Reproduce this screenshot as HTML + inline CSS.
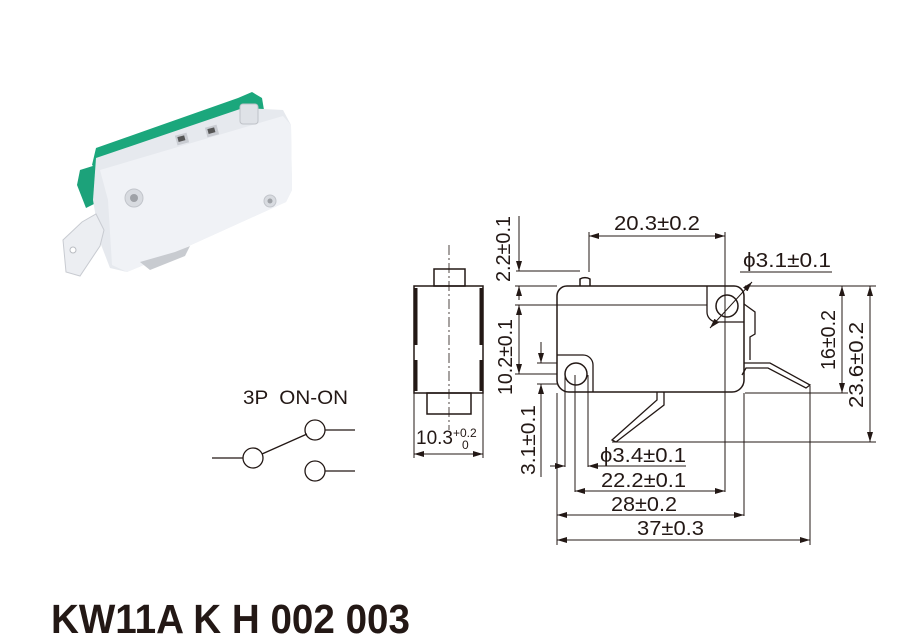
<!DOCTYPE html>
<html><head><meta charset="utf-8"><style>
html,body{margin:0;padding:0;background:#fff;}
svg{display:block;}
text{font-family:"Liberation Sans",Arial,sans-serif;fill:#231815;}
</style></head><body>
<svg width="906" height="639" viewBox="0 0 906 639" xmlns="http://www.w3.org/2000/svg">
<defs>
<marker id="a" viewBox="0 0 10 6" refX="10" refY="3" markerWidth="10" markerHeight="6" orient="auto-start-reverse" markerUnits="userSpaceOnUse"><path d="M0,0 L10,3 L0,6 z" fill="#231815"/></marker>
</defs>
<!-- photo -->
<g>
<polygon points="77,185 80,170 96,165 96,203 86,208" fill="#1ca27a"/>
<polygon points="92,165 96,148 238,98 252,92 262,98 264,110 100,172" fill="#1ba77c"/>
<polygon points="96,158 243,108 283,110 291,125 292,190 286,202 180,250 127,272 110,268 100,242 93,200" fill="#e6e9ee"/>
<polygon points="100,170 283,116 291,125 292,190 286,202 180,250 127,272 112,265 108,200" fill="#f0f2f6"/>
<polygon points="63,240 66,272 80,276 100,246 104,230 96,214 82,222" fill="#eceef2" stroke="#c8cbd1" stroke-width="1"/>
<circle cx="73" cy="250" r="3" fill="#fff" stroke="#b9bcc2"/>
<rect x="176" y="134" width="12" height="10" fill="#c9ccd2" transform="rotate(-15 182 139)"/>
<rect x="178" y="136" width="7" height="5" fill="#555" transform="rotate(-15 182 139)"/>
<rect x="206" y="126" width="12" height="10" fill="#c9ccd2" transform="rotate(-15 212 131)"/>
<rect x="208" y="128" width="7" height="5" fill="#555" transform="rotate(-15 212 131)"/>
<rect x="240" y="104" width="18" height="20" rx="3" fill="#dfe2e7" stroke="#bfc2c8"/>
<circle cx="134" cy="198" r="9" fill="#d8dbe0" stroke="#c2c5cb"/>
<circle cx="134" cy="198" r="4" fill="#9fa2a7"/>
<circle cx="270" cy="201" r="6" fill="#d8dbe0" stroke="#c2c5cb"/>
<circle cx="270" cy="201" r="2.5" fill="#9fa2a7"/>
<polygon points="140,262 175,252 190,246 185,256 150,270" fill="#c8cbd0"/>
</g>

<g fill="none" stroke="#231815" stroke-width="1">
<rect x="434" y="269" width="31" height="17" stroke-width="1.5"/>
<rect x="414" y="286" width="69" height="107" stroke-width="1.5"/>
<rect x="427" y="393" width="44" height="21" stroke-width="1.5"/>
<path d="M416,288 V345 M416,360 V391 M481,288 V345 M481,360 V391" stroke-width="3"/>
<path d="M449,245 V430" stroke-dasharray="10,3,2,3" stroke-width="0.8"/>
<path d="M414,393 V458 M483,393 V458"/>
<path d="M414,454 H483" marker-start="url(#a)" marker-end="url(#a)"/>

<path d="M590,286 V279 a9,8 0 0 0 -10,0 V286" stroke-width="1.5"/>
<path d="M567,286 H734 a10,10 0 0 1 10,10 V380 a12,12 0 0 1 -12,12 H569 a12,12 0 0 1 -12,-12 V296 a10,10 0 0 1 10,-10 z" stroke-width="1.5"/>
<path d="M707,286 V312 a10,10 0 0 0 10,10 H744" stroke-width="1.3"/>
<circle cx="727" cy="306" r="11" stroke-width="1.5"/>
<path d="M744,304 L755,312 V334 L750,337 V360" stroke-width="1.3"/>
<path d="M744,363 H770 L810,385 L806,388 L768,368 H746 L742,375" stroke-width="1.3"/>
<path d="M557,355 H583 a10,10 0 0 1 10,10 V392" stroke-width="1.3"/>
<circle cx="576" cy="374" r="11" stroke-width="1.5"/>
<path d="M657,392 V400 L612,440 L616,442 L664,405 V392" stroke-width="1.3"/>

<path d="M589,272 V232 M725,232 V492"/>
<path d="M589,236 H725" marker-start="url(#a)" marker-end="url(#a)"/>
<path d="M516,271 H580 M515,286 H557 M515,305 H707 M515,374 H557"/>
<path d="M519,216 V271" marker-end="url(#a)"/>
<path d="M519,286 V300" marker-start="url(#a)"/>
<path d="M519,305 V374" marker-start="url(#a)" marker-end="url(#a)"/>
<path d="M537,363 H557 M537,384 H557"/>
<path d="M541,342 V363" marker-end="url(#a)"/>
<path d="M541,384 V477" marker-start="url(#a)"/>
<path d="M565,375 V467 M588,375 V467 M575,375 V492 M557,393 V545 M744,393 V516 M810,386 V545"/>
<path d="M550,466 H565" marker-end="url(#a)"/>
<path d="M588,466 H686" marker-start="url(#a)"/>
<path d="M575,491 H725" marker-start="url(#a)" marker-end="url(#a)"/>
<path d="M557,515 H744" marker-start="url(#a)" marker-end="url(#a)"/>
<path d="M557,540 H810" marker-start="url(#a)" marker-end="url(#a)"/>
<path d="M740,272 H832"/>
<path d="M710,328 L752,282" marker-start="url(#a)" marker-end="url(#a)"/>
<path d="M745,286 H876 M745,393 H848 M612,442 H876"/>
<path d="M842,286 V393" marker-start="url(#a)" marker-end="url(#a)"/>
<path d="M870,286 V442" marker-start="url(#a)" marker-end="url(#a)"/>

<path d="M212,458 H243 M262,454 L307,434 M325,430 H355 M325,471 H355" stroke-width="1.3"/>
<circle cx="253" cy="458" r="10" stroke-width="1.3"/>
<circle cx="315" cy="430" r="10" stroke-width="1.3"/>
<circle cx="315" cy="471" r="10" stroke-width="1.3"/>
</g>

<g font-size="20">
<text x="614" y="230" textLength="86" lengthAdjust="spacingAndGlyphs">20.3±0.2</text>
<text x="743" y="267" textLength="88" lengthAdjust="spacingAndGlyphs">ϕ3.1±0.1</text>
<text x="600" y="462" textLength="86" lengthAdjust="spacingAndGlyphs">ϕ3.4±0.1</text>
<text x="601" y="487" textLength="85" lengthAdjust="spacingAndGlyphs">22.2±0.1</text>
<text x="611" y="511" textLength="66" lengthAdjust="spacingAndGlyphs">28±0.2</text>
<text x="637" y="535" textLength="67" lengthAdjust="spacingAndGlyphs">37±0.3</text>
<text x="416" y="444" font-size="19">10.3</text>
<text x="453" y="437" font-size="12">+0.2</text>
<text x="462" y="449" font-size="12">0</text>
<text transform="translate(510,249) rotate(-90)" text-anchor="middle" textLength="66" lengthAdjust="spacingAndGlyphs">2.2±0.1</text>
<text transform="translate(512,357) rotate(-90)" text-anchor="middle" textLength="76" lengthAdjust="spacingAndGlyphs">10.2±0.1</text>
<text transform="translate(535,440) rotate(-90)" text-anchor="middle" textLength="70" lengthAdjust="spacingAndGlyphs">3.1±0.1</text>
<text transform="translate(835,340) rotate(-90)" text-anchor="middle" textLength="60" lengthAdjust="spacingAndGlyphs">16±0.2</text>
<text transform="translate(863,365) rotate(-90)" text-anchor="middle" textLength="86" lengthAdjust="spacingAndGlyphs">23.6±0.2</text>
<text x="243" y="404" font-size="19" textLength="105" lengthAdjust="spacingAndGlyphs" xml:space="preserve">3P  ON-ON</text>
</g>
<text x="51" y="633" font-size="41" font-weight="bold" textLength="359" lengthAdjust="spacingAndGlyphs">KW11A K H 002 003</text>
</svg>
</body></html>
